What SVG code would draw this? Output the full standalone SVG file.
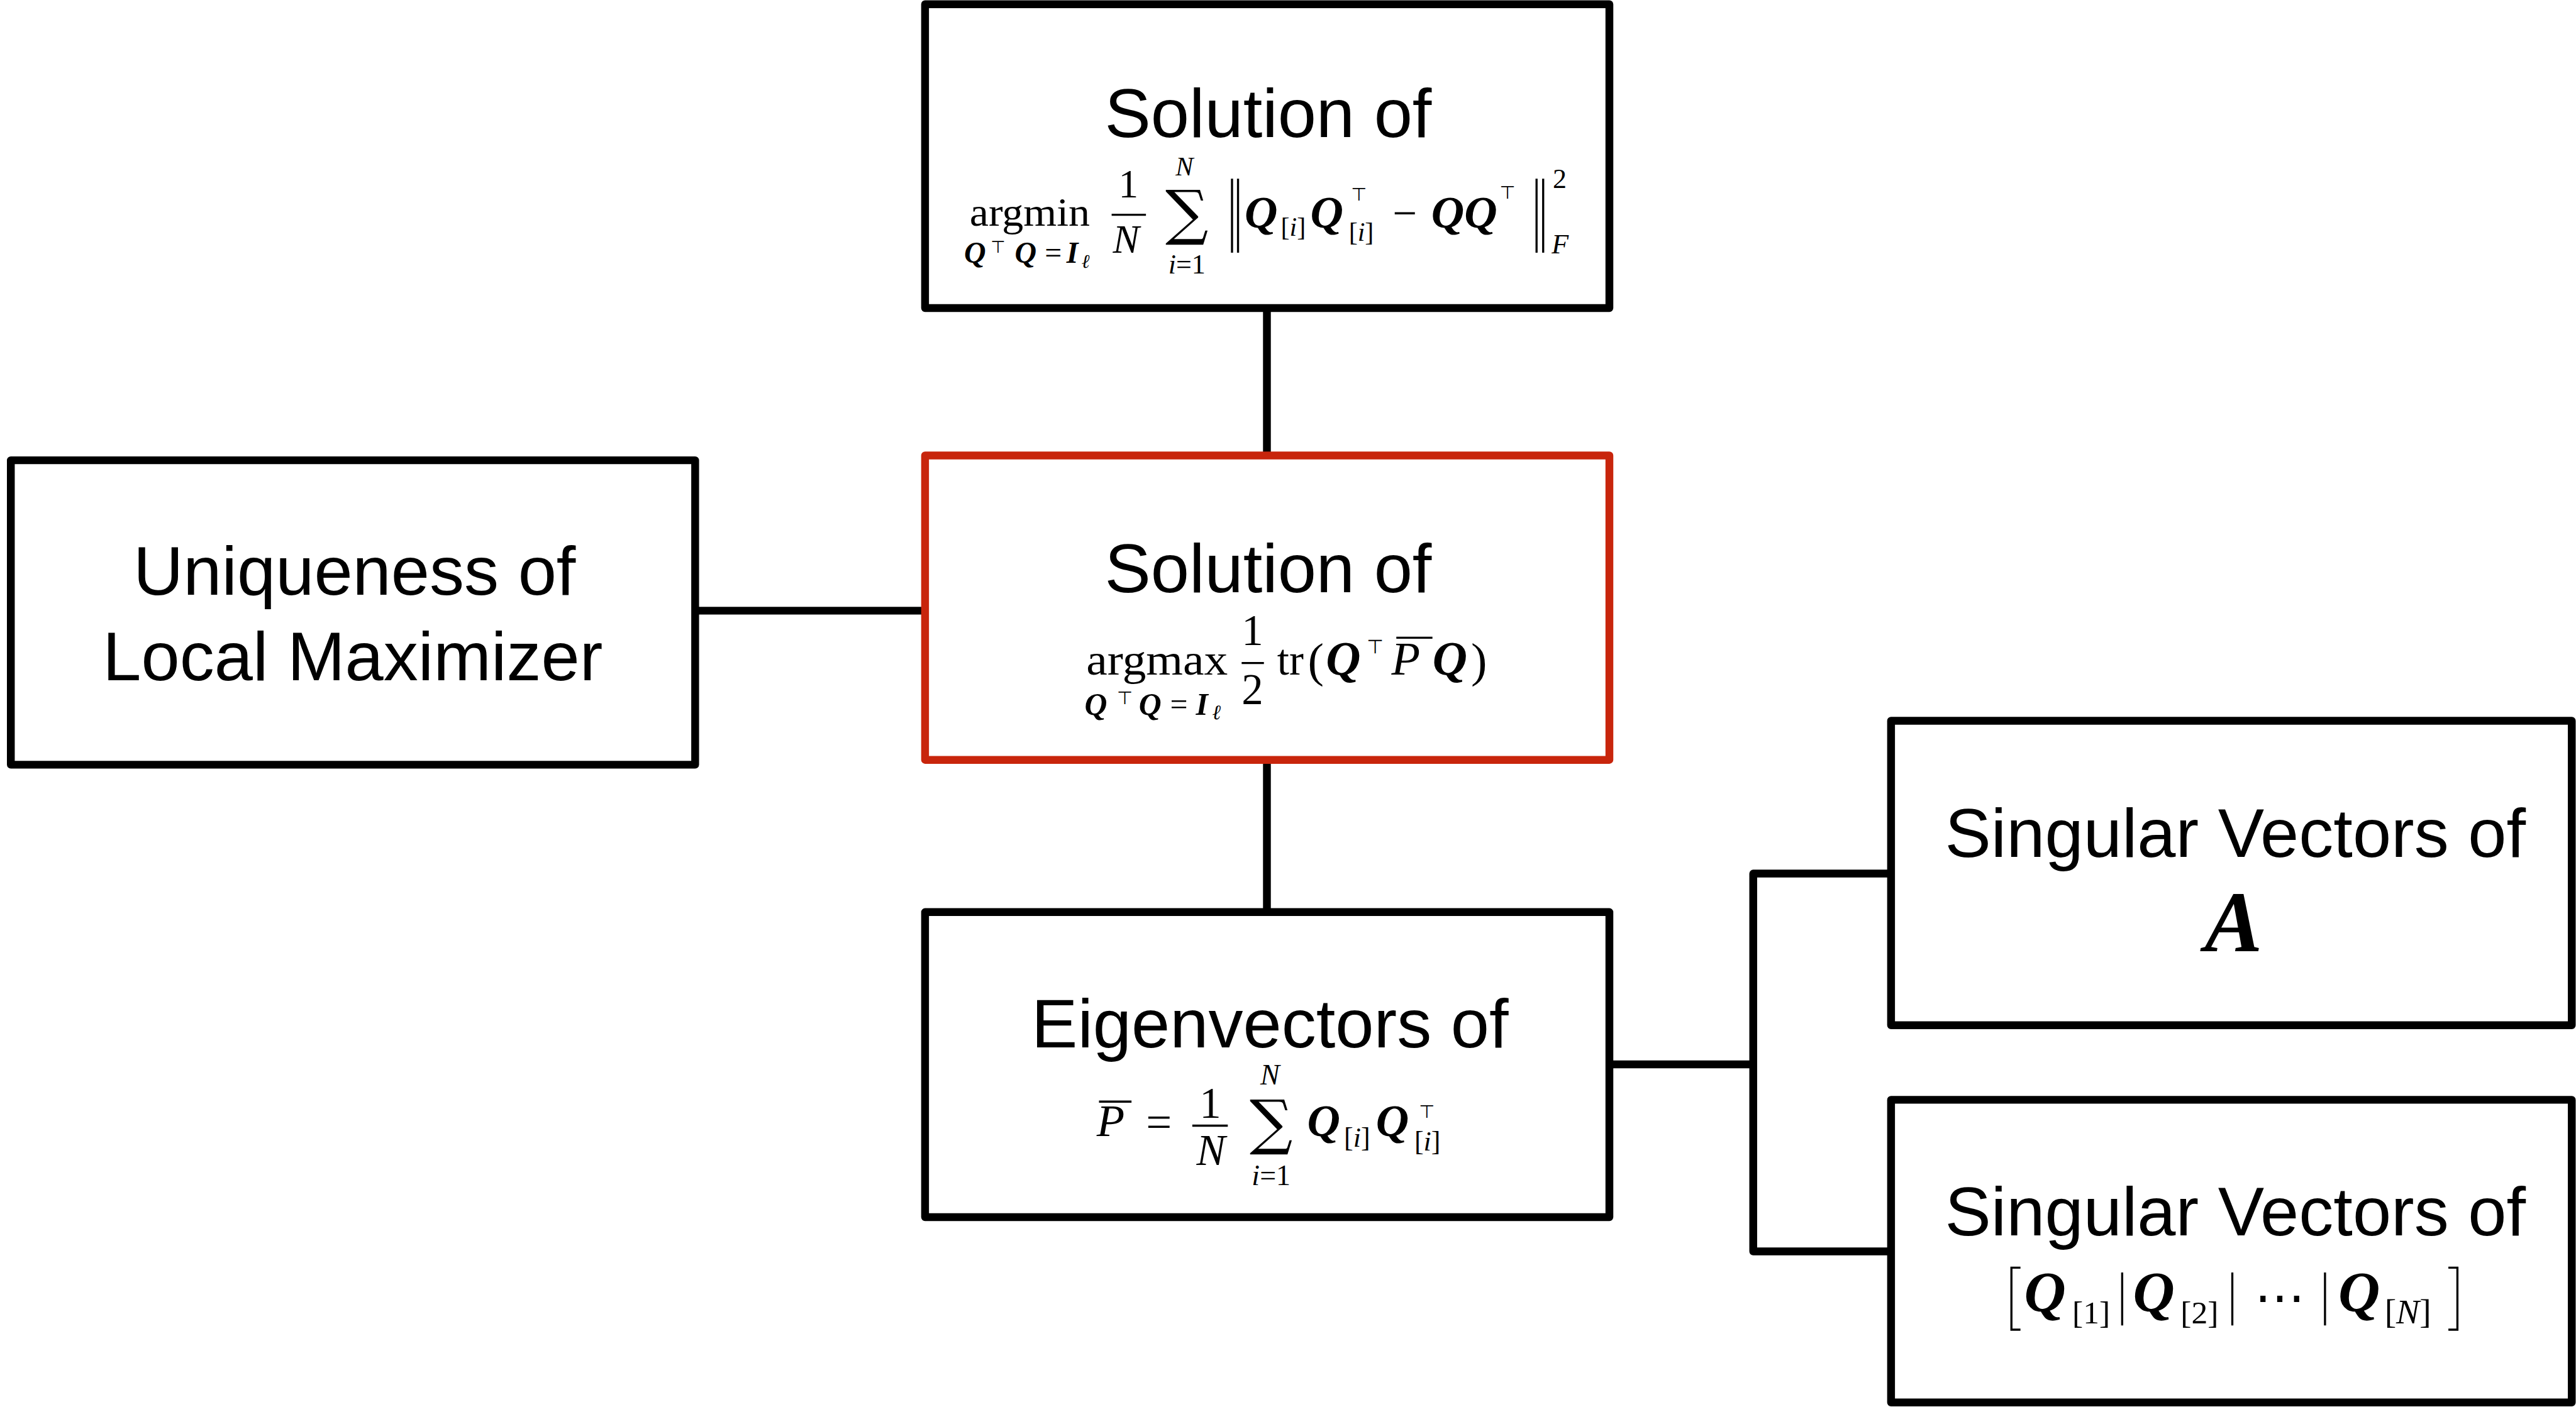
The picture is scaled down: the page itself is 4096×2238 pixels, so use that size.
<svg xmlns="http://www.w3.org/2000/svg" width="4096" height="2238" viewBox="0 0 4096 2238">
<style>
.box{fill:#fff;stroke:#000;stroke-width:13;stroke-linejoin:round}
.red{stroke:#C8250C}
.conn{fill:none;stroke:#000;stroke-width:13;stroke-linejoin:round}
.lbl{font-family:"Liberation Sans",Arial,sans-serif;font-size:115px;text-anchor:middle;fill:#000}
.m{font-family:"Liberation Serif","Times New Roman",serif;fill:#000}
.bi{font-weight:bold;font-style:italic}
.it{font-style:italic}
.sym{font-family:"DejaVu Sans",sans-serif;fill:#000}
.sum{font-family:"DejaVu Serif","DejaVu Sans",serif;fill:#000;text-anchor:middle}
.rule{stroke:#000;stroke-width:3.5;fill:none}
.c{text-anchor:middle}
</style>
<rect width="4096" height="2238" fill="#fff"/>
<g transform="scale(0.957)">
<g id="connectors">
<path class="conn" d="M2105 512V757"/>
<path class="conn" d="M2105 1263V1516"/>
<path class="conn" d="M1155 1015H1537"/>
<path class="conn" d="M2674 1769H2913"/>
<path class="conn" d="M3142 1452H2913V2080H3142"/>
</g>
<g id="n-top">
<rect class="box" x="1537" y="7" width="1137" height="505"/>
<text class="lbl" x="2107" y="228">Solution of</text>
<text class="m" font-size="66" x="1611" y="375" textLength="200" lengthAdjust="spacingAndGlyphs">argmin</text>
<text class="m bi" font-size="50" x="1602" y="437">Q</text>
<text class="sym" font-size="28" x="1646" y="420">⊤</text>
<text class="m bi" font-size="50" x="1686" y="437">Q</text>
<text class="m" font-size="50" x="1736" y="437">=</text>
<text class="m bi" font-size="50" x="1772" y="437">I</text>
<text class="m it" font-size="32" x="1797" y="445">ℓ</text>
<text class="m c" font-size="66" x="1875" y="328">1</text>
<line class="rule" x1="1847" y1="357" x2="1904" y2="357"/>
<text class="m it c" font-size="66" x="1871" y="420">N</text>
<text class="sum" font-size="100" x="1972" y="388">∑</text>
<text class="m it c" font-size="44" x="1968" y="292">N</text>
<text class="m c" font-size="46" x="1972" y="455"><tspan font-style="italic">i</tspan>=1</text>
<line class="rule" x1="2047" y1="297" x2="2047" y2="420"/>
<line class="rule" x1="2057" y1="297" x2="2057" y2="420"/>
<text class="m bi" font-size="76" x="2068" y="378">Q</text>
<text class="m" font-size="44" x="2128" y="392">[<tspan font-style="italic">i</tspan>]</text>
<text class="m bi" font-size="76" x="2177" y="378">Q</text>
<text class="sym" font-size="30" x="2245" y="333">⊤</text>
<text class="m" font-size="44" x="2241" y="400">[<tspan font-style="italic">i</tspan>]</text>
<text class="m" font-size="72" x="2314" y="378">−</text>
<text class="m bi" font-size="76" x="2378" y="378">QQ</text>
<text class="sym" font-size="30" x="2492" y="330">⊤</text>
<line class="rule" x1="2553" y1="297" x2="2553" y2="420"/>
<line class="rule" x1="2564" y1="297" x2="2564" y2="420"/>
<text class="m" font-size="46" x="2580" y="312">2</text>
<text class="m it" font-size="46" x="2578" y="421">F</text>
</g>
<g id="n-mid">
<rect class="box red" x="1537" y="757" width="1137" height="506"/>
<text class="lbl" x="2107" y="984">Solution of</text>
<text class="m" font-size="72" x="1805" y="1121" textLength="235" lengthAdjust="spacingAndGlyphs">argmax</text>
<text class="m bi" font-size="52" x="1802" y="1188">Q</text>
<text class="sym" font-size="30" x="1856" y="1170">⊤</text>
<text class="m bi" font-size="52" x="1892" y="1188">Q</text>
<text class="m" font-size="52" x="1944" y="1188">=</text>
<text class="m bi" font-size="52" x="1987" y="1188">I</text>
<text class="m it" font-size="34" x="2014" y="1195">ℓ</text>
<text class="m c" font-size="72" x="2081" y="1072">1</text>
<line class="rule" x1="2063" y1="1102" x2="2100" y2="1102"/>
<text class="m c" font-size="72" x="2081" y="1170">2</text>
<text class="m" font-size="72" x="2122" y="1121">tr</text>
<text class="m" font-size="80" x="2173" y="1124">(</text>
<text class="m bi" font-size="80" x="2203" y="1121">Q</text>
<text class="sym" font-size="32" x="2271" y="1086">⊤</text>
<text class="m it" font-size="78" x="2312" y="1121">P</text>
<line class="rule" x1="2320" y1="1060" x2="2380" y2="1060"/>
<text class="m bi" font-size="80" x="2380" y="1121">Q</text>
<text class="m" font-size="80" x="2444" y="1124">)</text>
</g>
<g id="n-left">
<rect class="box" x="18" y="765" width="1137" height="506"/>
<text class="lbl" x="589" y="988">Uniqueness of</text>
<text class="lbl" x="586" y="1131">Local Maximizer</text>
</g>
<g id="n-eigen">
<rect class="box" x="1537" y="1516" width="1137" height="507"/>
<text class="lbl" x="2110" y="1741">Eigenvectors of</text>
<text class="m it" font-size="76" x="1822" y="1888">P</text>
<line class="rule" x1="1826" y1="1831" x2="1880" y2="1831"/>
<text class="m" font-size="76" x="1904" y="1890">=</text>
<text class="m c" font-size="72" x="2011" y="1858">1</text>
<line class="rule" x1="1981" y1="1871" x2="2040" y2="1871"/>
<text class="m it c" font-size="72" x="2012" y="1936">N</text>
<text class="sum" font-size="100" x="2112" y="1900">∑</text>
<text class="m it c" font-size="48" x="2110" y="1803">N</text>
<text class="m c" font-size="48" x="2112" y="1970"><tspan font-style="italic">i</tspan>=1</text>
<text class="m bi" font-size="76" x="2172" y="1888">Q</text>
<text class="m" font-size="46" x="2233" y="1906">[<tspan font-style="italic">i</tspan>]</text>
<text class="m bi" font-size="76" x="2286" y="1888">Q</text>
<text class="sym" font-size="30" x="2358" y="1858">⊤</text>
<text class="m" font-size="46" x="2350" y="1912">[<tspan font-style="italic">i</tspan>]</text>
</g>
<g id="n-svA">
<rect class="box" x="3142" y="1198" width="1131" height="506"/>
<text class="lbl" x="3714" y="1424">Singular Vectors of</text>
<text class="m bi c" font-size="144" x="3711" y="1581">A</text>
</g>
<g id="n-svQ">
<rect class="box" x="3142" y="1828" width="1131" height="503"/>
<text class="lbl" x="3714" y="2053">Singular Vectors of</text>
<polyline class="rule" points="3357,2107 3342,2107 3342,2210 3357,2210"/>
<text class="m bi" font-size="96" x="3363" y="2180">Q</text>
<text class="m" font-size="54" x="3443" y="2200">[1]</text>
<line class="rule" x1="3526" y1="2115" x2="3526" y2="2203"/>
<text class="m bi" font-size="96" x="3544" y="2180">Q</text>
<text class="m" font-size="54" x="3623" y="2200">[2]</text>
<line class="rule" x1="3709" y1="2115" x2="3709" y2="2203"/>
<text class="sym c" font-size="84" x="3788" y="2185">⋯</text>
<line class="rule" x1="3863" y1="2115" x2="3863" y2="2203"/>
<text class="m bi" font-size="96" x="3885" y="2180">Q</text>
<text class="m" font-size="58" x="3962" y="2200">[<tspan font-style="italic">N</tspan>]</text>
<polyline class="rule" points="4068,2107 4083,2107 4083,2210 4068,2210"/>
</g>
</g>
</svg>
